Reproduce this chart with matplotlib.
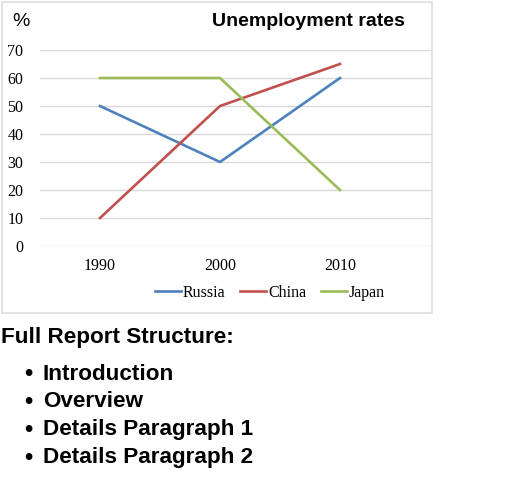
import matplotlib
matplotlib.use("Agg")
import matplotlib.pyplot as plt
from matplotlib.patches import Rectangle

# data
years = ["1990", "2000", "2010"]
russia = [50, 30, 60]
china = [10, 50, 65]
japan = [60, 60, 20]
y_ticks = [0, 10, 20, 30, 40, 50, 60, 70]
bullets = ["Introduction", "Overview", "Details Paragraph 1", "Details Paragraph 2"]

W, H = 512, 483
fig = plt.figure(figsize=(W / 100, H / 100), dpi=100)
fig.patch.set_facecolor("white")

# chart frame
fig.patches.append(Rectangle((2 / W, 1 - 313 / H), 430 / W, 311 / H,
                             transform=fig.transFigure, fill=False,
                             edgecolor="#dedede", linewidth=1.2))

ax = fig.add_axes([40 / W, 1 - 246 / H, 392 / W, 196 / H])
x = range(len(years))
ax.plot(x, russia, color="#4f81bd", lw=1.9, label="Russia")
ax.plot(x, china, color="#c0504d", lw=1.9, label="China")
ax.plot(x, japan, color="#9bbb59", lw=1.9, label="Japan")

ax.set_xlim(-0.5, 2 + 92 / 120)
ax.set_ylim(0, 70)
ax.set_yticks(y_ticks)
ax.set_xticks(list(x))
ax.set_xticklabels(years)
ax.grid(axis="y", color="#d9d9d9", lw=1.0)
ax.set_axisbelow(True)
for s in ax.spines.values():
    s.set_visible(False)
ax.tick_params(length=0, labelsize=11.5, colors="black")
ax.tick_params(axis="x", pad=9)
ax.tick_params(axis="y", pad=12)
for lab in ax.get_xticklabels() + ax.get_yticklabels():
    lab.set_fontfamily("Liberation Serif")

leg = fig.legend(loc="center", bbox_to_anchor=(270 / W, 1 - 293 / H), ncol=3,
                 frameon=False, handlelength=1.65, handletextpad=0.12,
                 columnspacing=0.9, prop={"family": "Liberation Serif", "size": 11.5})

fig.text(12 / W, 1 - 22 / H, "%", fontsize=14, family="Liberation Sans",
         va="center", ha="left")
fig.text(308 / W, 1 - 22 / H, "Unemployment rates", fontsize=14,
         family="Liberation Sans", weight="bold", va="center", ha="center")

fig.text(1 / W, 1 - 337 / H, "Full Report Structure:", fontsize=16.2,
         family="Liberation Sans", weight="bold", va="center", ha="left")
for i, b in enumerate(bullets):
    yy = 1 - (374 + i * 27.8) / H
    fig.text(24 / W, yy, "\u2022", fontsize=17, family="Liberation Sans",
             weight="bold", va="center", ha="left")
    fig.text(43 / W, yy, b, fontsize=16.2, family="Liberation Sans",
             weight="bold", va="center", ha="left")

fig.savefig("out.png", dpi=100)
